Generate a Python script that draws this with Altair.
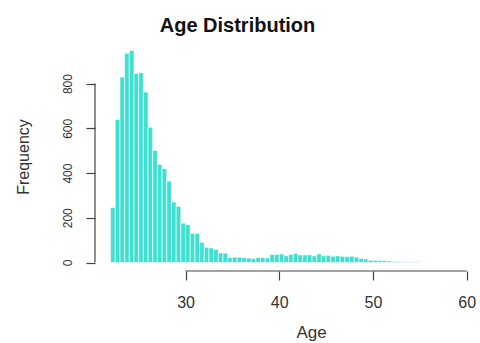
import altair as alt
import pandas as pd

bin_left = [22.0, 22.5, 23.0, 23.5, 24.0, 24.5, 25.0, 25.5, 26.0, 26.5, 27.0, 27.5,
            28.0, 28.5, 29.0, 29.5, 30.0, 30.5, 31.0, 31.5, 32.0, 32.5, 33.0, 33.5,
            34.0, 34.5, 35.0, 35.5, 36.0, 36.5, 37.0, 37.5, 38.0, 38.5, 39.0, 39.5,
            40.0, 40.5, 41.0, 41.5, 42.0, 42.5, 43.0, 43.5, 44.0, 44.5, 45.0, 45.5,
            46.0, 46.5, 47.0, 47.5, 48.0, 48.5, 49.0, 49.5, 50.0, 50.5, 51.0, 51.5,
            52.0, 52.5, 53.0, 53.5, 54.0, 54.5]
counts = [246, 640, 829, 936, 948, 845, 850, 762, 605, 501, 438, 420,
          364, 270, 250, 176, 170, 131, 130, 90, 68, 65, 58, 43,
          42, 22, 24, 24, 22, 20, 18, 22, 22, 20, 36, 36,
          38, 30, 36, 40, 34, 34, 34, 30, 38, 30, 32, 28,
          30, 28, 26, 28, 24, 18, 16, 10, 10, 9, 8, 7,
          5, 4, 4, 2, 3, 3]
bin_width = 0.5
x_ticks = [30, 40, 50, 60]
y_ticks = [0, 200, 400, 600, 800]

df = pd.DataFrame({"start": bin_left, "count": counts})
df["end"] = df["start"] + bin_width

W, H = 381, 229
FONT = "Liberation Sans"
AX = "#444444"

xs = alt.Scale(domain=[20.34, 61.0], nice=False, zero=False)
ys = alt.Scale(domain=[-38, 986], nice=False, zero=False)

bars = alt.Chart(df).mark_bar(fill="#40E0D0", stroke="white", strokeWidth=0.6).encode(
    x=alt.X("start:Q", scale=xs, axis=alt.Axis(
        values=x_ticks, domain=False, grid=False, tickSize=9, tickColor=AX, tickWidth=1.2,
        labelFontSize=16, labelFont=FONT, labelColor="#333333", labelPadding=14,
        title="Age", titleFont=FONT, titleFontSize=17, titleFontWeight="normal",
        titleColor="#333333", titleX=216, titleY=66, titleBaseline="alphabetic",
        titleAlign="center")),
    x2="end:Q",
    y=alt.Y("count:Q", scale=ys, axis=alt.Axis(
        values=y_ticks, domain=False, grid=False, tickSize=9, tickColor=AX, tickWidth=1.2,
        labelFontSize=12, labelFont=FONT, labelColor="#333333", labelAngle=270,
        labelAlign="center", labelBaseline="bottom", labelPadding=12,
        title="Frequency", titleFont=FONT, titleFontSize=16, titleFontWeight="normal",
        titleColor="#333333", titleAngle=270, titleX=-67, titleY=114.5,
        titleBaseline="alphabetic", titleAlign="center")),
    y2=alt.datum(0),
)

xaxis_df = pd.DataFrame({"a": [min(x_ticks)], "b": [max(x_ticks)]})
xline = alt.Chart(xaxis_df).mark_rule(color=AX, strokeWidth=1.2).encode(
    x=alt.X("a:Q", scale=xs), x2="b:Q", y=alt.value(H))

yaxis_df = pd.DataFrame({"a": [min(y_ticks)], "b": [max(y_ticks)]})
yline = alt.Chart(yaxis_df).mark_rule(color=AX, strokeWidth=1.2).encode(
    y=alt.Y("a:Q", scale=ys), y2="b:Q", x=alt.value(0))

chart = alt.layer(bars, xline, yline).properties(
    width=W, height=H,
    background="white",
    autosize=alt.AutoSizeParams(type="none"),
    padding={"left": 95, "top": 42, "right": 4, "bottom": 72},
    title=alt.TitleParams("Age Distribution", font=FONT, fontSize=20, fontWeight="bold",
                          color="#111111", anchor="middle", dx=-48, offset=-10,
                          baseline="alphabetic"),
).configure_view(strokeWidth=0)

chart.save("out.html", embed_options={"renderer": "svg", "actions": False})
